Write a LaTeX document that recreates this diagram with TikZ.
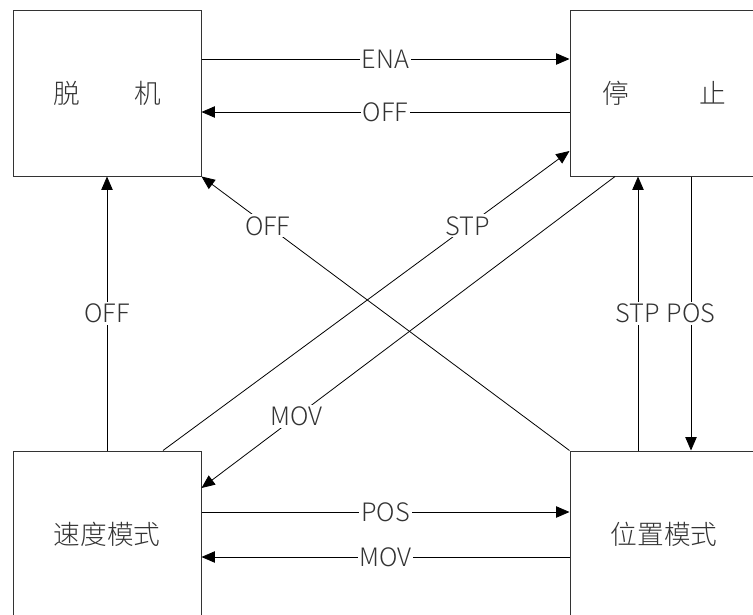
\documentclass[tikz,border=0pt]{standalone}
\usepackage{fontspec}
\setmainfont{Noto Sans CJK SC}[UprightFont={* Light}]
\usetikzlibrary{arrows.meta,positioning}
\definecolor{labgray}{RGB}{51,51,51}

\begin{document}
\begin{tikzpicture}[x=0.75pt, y=-0.75pt,
    state/.style={rectangle, draw=black!80, line width=0.75pt, minimum width=141pt, minimum height=124.5pt, inner sep=0pt, font=\fontsize{20}{24}\selectfont, text=labgray},
    lab/.style={fill=white, inner sep=1.5pt, font=\fontsize{19}{22}\selectfont, text=labgray},
    tr/.style={-{Triangle[length=10pt, width=8.5pt]}, line width=0.6pt},
]
\useasboundingbox (0,0) rectangle (753,614);
\clip (0,0) rectangle (753,614);

\node[state] (Off)  at (107,93)  {脱\hspace{41pt}机};
\node[state] (Stop) at (664,93)  {停\hspace{53pt}止};
\node[state] (Vel)  at (107,534) {速度模式};
\node[state] (Pos)  at (664,534) {位置模式};

% horizontal transitions
\draw[tr] ([yshift=25.5pt]Off.east)   -- node[lab]{ENA} ([yshift=25.5pt]Stop.west);
\draw[tr] ([yshift=-14.25pt]Stop.west) -- node[lab]{OFF} ([yshift=-14.25pt]Off.east);
\draw[tr] ([yshift=16.5pt]Vel.east)   -- node[lab]{POS} ([yshift=16.5pt]Pos.west);
\draw[tr] ([yshift=-17.25pt]Pos.west) -- node[lab]{MOV} ([yshift=-17.25pt]Vel.east);

% vertical transitions
\draw[tr] (Vel.north) -- node[lab]{OFF} (Off.south);
\draw[tr] ([xshift=-19.5pt]Pos.north) -- node[lab]{STP} ([xshift=-19.5pt]Stop.south);
\draw[tr] ([xshift=20.25pt]Stop.south) -- node[lab]{POS} ([xshift=20.25pt]Pos.north);

% diagonal transitions
\draw[tr] (Pos.north west) -- node[lab, pos=0.82]{OFF} (Off.south east);
\draw[tr] ([xshift=42pt]Vel.north) -- node[lab, pos=0.75]{STP} ([yshift=-43.5pt]Stop.west);
\draw[tr] ([xshift=-36.75pt]Stop.south) -- node[lab, pos=0.77]{MOV} ([yshift=34.5pt]Vel.east);
\end{tikzpicture}
\end{document}
